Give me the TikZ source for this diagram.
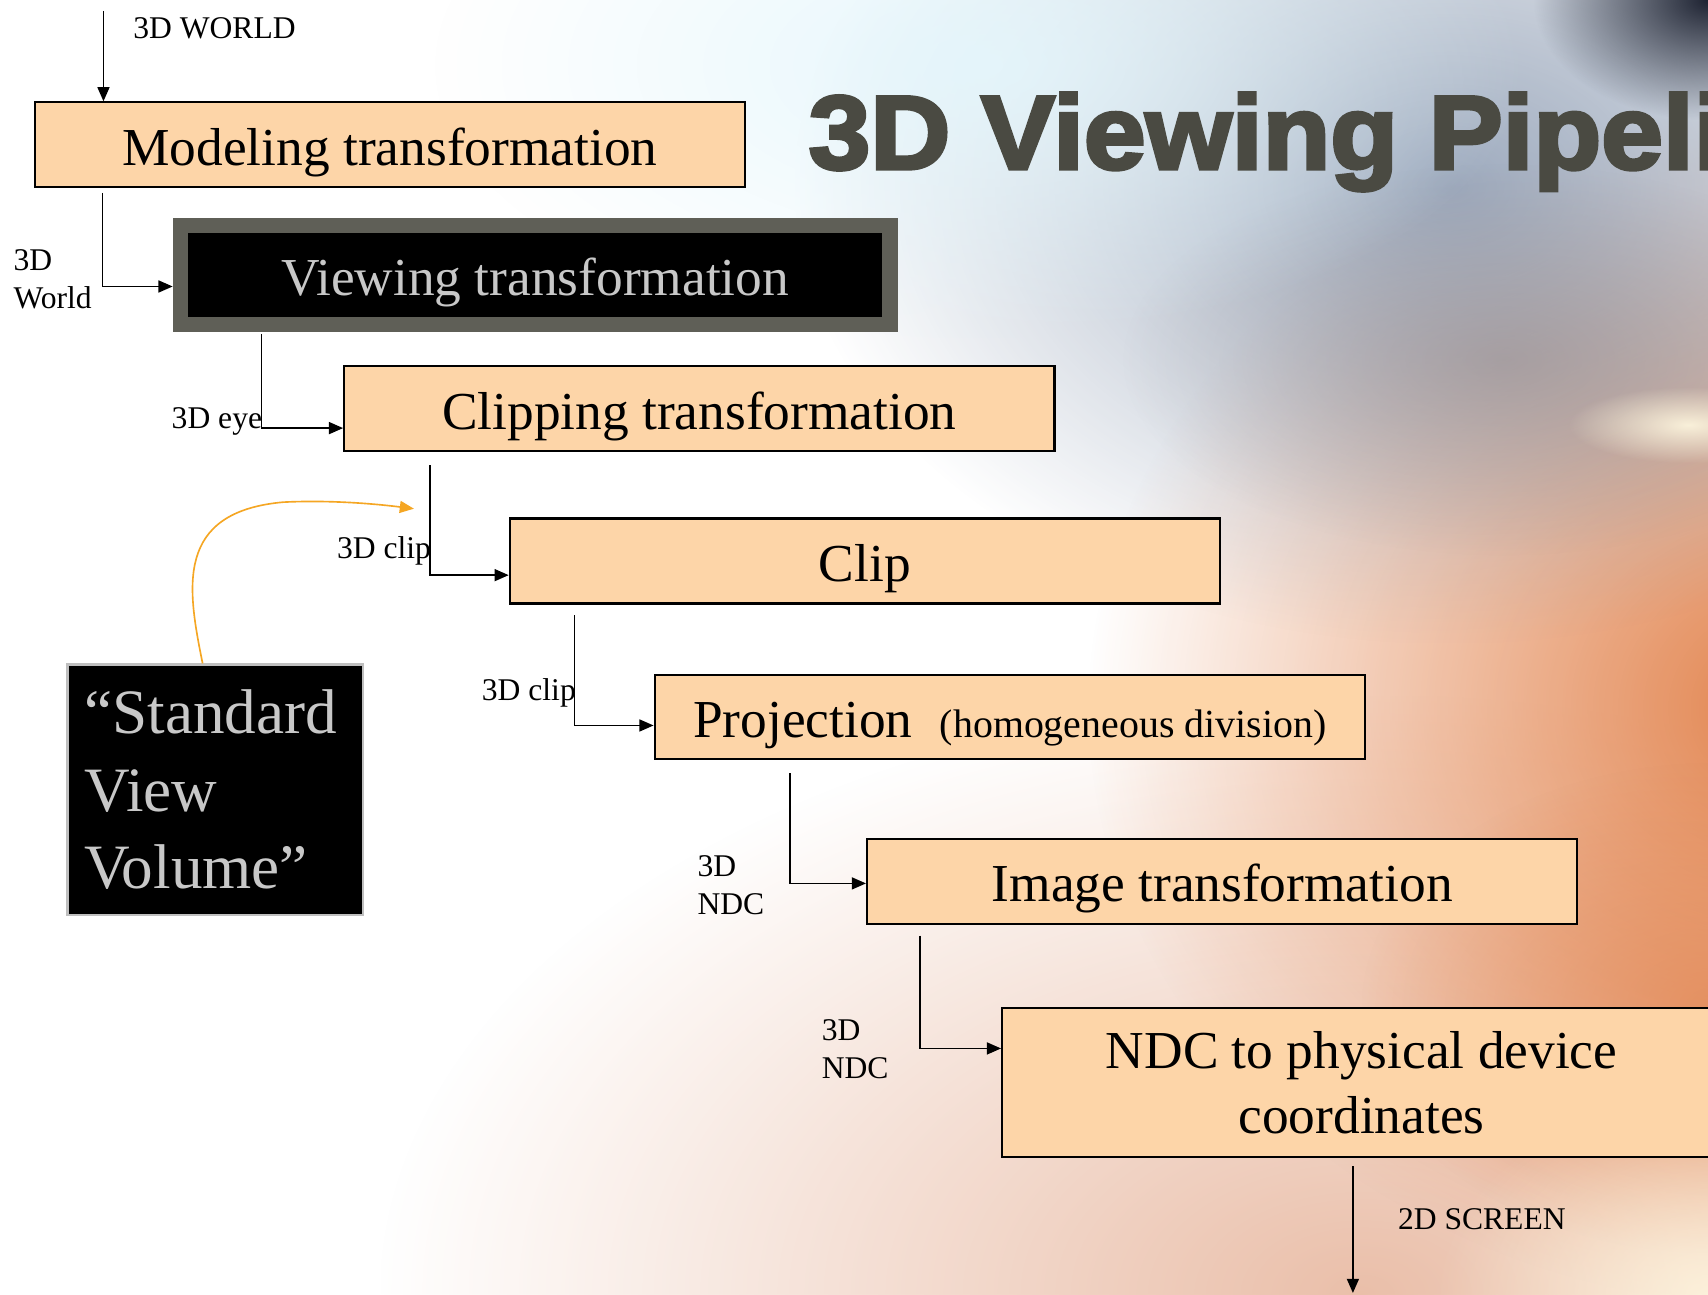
\documentclass[tikz,border=0pt]{standalone}
\usepackage{fontspec}
\setmainfont{Liberation Serif}
\newfontfamily\titlefont{Liberation Sans Bold}[FakeBold=3.5,FakeStretch=1.06]
\usetikzlibrary{arrows.meta,calc,fadings}
\definecolor{boxfill}{HTML}{FDD5A8}
\definecolor{viewgray}{HTML}{5F5F57}
\definecolor{viewtext}{HTML}{C8C8C8}
\definecolor{svvborder}{HTML}{BFBFBF}
\definecolor{titlecol}{HTML}{4A4A42}
\definecolor{curvecol}{HTML}{F5A623}
\definecolor{bgpeach}{HTML}{E8B8A0}
\definecolor{bgorange}{HTML}{E07A40}
\definecolor{bgblue}{HTML}{8C9BB2}
\definecolor{bgcyan}{HTML}{E4F6FC}
\definecolor{bgdark}{HTML}{1E2332}
\definecolor{bgswoosh}{HTML}{8A7F80}
\definecolor{bgbright}{HTML}{FFF8E0}
\tikzfading[name=softblob, inner color=transparent!0, outer color=transparent!100]
\tikzset{
  boxbase/.style={draw=black, line width=1pt, fill=boxfill, inner sep=0pt,
    minimum width=326pt, minimum height=39pt, font=\fontsize{24.5}{29.5}\selectfont},
  box/.style={boxbase, text height=19pt, text depth=0pt},
  lbl/.style={font=\fontsize{14.5}{17.5}\selectfont, inner sep=0pt, align=left},
  conn/.style={line width=0.75pt, -{Triangle[length=6.5pt,width=5.5pt]}},
  blob/.style={path fading=softblob, fill opacity=#1},
}
\begin{document}
\begin{tikzpicture}[x=0.5pt,y=-0.5pt]
\useasboundingbox (0,0) rectangle (1568,1188);
\begin{scope}
\clip (0,0) rectangle (1568,1188);
\fill[white] (0,0) rectangle (1568,1188);
% background blobs (rectangle = centre +- radius)
\fill[bgpeach, blob=0.9] (350,638) rectangle (2150,1738);
\fill[bgorange, blob=0.95] (1000,100) rectangle (2300,1200);
\fill[bgorange, blob=0.6] (1250,700) rectangle (1900,1150);
\fill[bgblue, blob=0.85] (730,-250) rectangle (1930,590);
\fill[bgswoosh, blob=0.45] (1030,150) rectangle (1730,510);
\fill[bgcyan, blob=0.9] (400,-190) rectangle (1400,310);
\fill[bgdark, blob=1] (1408,-110) rectangle (1728,110);
\fill[bgbright, blob=0.9] (1440,355) rectangle (1660,425);
\fill[bgbright, blob=0.8] (1318,1008) rectangle (1818,1368);

% title
\node[anchor=base west, inner sep=0pt, text=titlecol,
  font=\titlefont\fontsize{48}{48}\selectfont] (title) at (742,155) {3D Viewing Pipeline};

% boxes
\node[box] (model) at (358,133) {Modeling transformation};
\node[draw=viewgray, line width=7pt, fill=black, text=viewtext, inner sep=0pt,
  minimum width=325.75pt, minimum height=45.5pt, text height=19pt, text depth=0pt,
  font=\fontsize{24.5}{29.5}\selectfont] (view) at (491.25,252.5) {Viewing transformation};
\node[box] (clipping) at (642,375) {Clipping transformation};
\node[box] (clip) at (794,515) {Clip};
\node[box, minimum height=38.5pt] (proj) at (927,658.5)
  {Projection\hspace{12.5pt}{\fontsize{18.3}{22}\selectfont(homogeneous division)}};
\node[box] (image) at (1122,809) {Image transformation};
\node[boxbase, minimum width=330pt, minimum height=68.5pt, align=center,
  font=\fontsize{24.5}{30}\selectfont] (ndc) at (1250,994)
  {NDC to physical device\\coordinates};
\node[draw=svvborder, line width=1pt, fill=black, text=viewtext, inner ysep=0pt,
  inner xsep=7.75pt, text width=120pt, minimum height=115pt, align=left,
  font=\fontsize{29}{35.5}\selectfont] (svv) at (197.5,725) {“Standard\\View\\Volume”};

% labels
\node[lbl, anchor=west] (lworld) at (122,26) {3D WORLD};
\node[lbl, anchor=west] (lw) at (12,256) {3D\\World};
\node[lbl, anchor=east] (leye) at (241,387) {3D eye};
\node[lbl, anchor=east] (lclipa) at (396,506) {3D clip};
\node[lbl, anchor=east] (lclipb) at (529,636) {3D clip};
\node[lbl, anchor=west] (lndca) at (640,813) {3D\\NDC};
\node[lbl, anchor=west] (lndcb) at (754,963) {3D\\NDC};
\node[lbl, anchor=west] (lscreen) at (1283,1119) {2D SCREEN};

% connectors
\coordinate (in) at (95,10);
\coordinate (out) at (1242,1187);
\coordinate (svvtip) at (380,467);
\draw[conn] (in) -- (in |- model.north);
\draw[conn] ($(model.south west)+(63,4)$) |- ($(view.west)+(0,10.5)$);
\draw[conn] ($(view.south west)+(81.5,1.5)$) |- ($(clipping.west)+(0,18)$);
\draw[conn] ($(clipping.south west)+(79.5,12)$) |- ($(clip.west)+(0,13)$);
\draw[conn] ($(clip.south west)+(60.5,10)$) |- ($(proj.west)+(0,7.5)$);
\draw[conn] ($(proj.south west)+(125.5,12)$) |- ($(image.west)+(0,2)$);
\draw[conn] ($(image.south west)+(49.5,10)$) |- ($(ndc.west)+(0,-31.5)$);
\draw[conn] ($(out |- ndc.south)+(0,7)$) -- (out);
\draw[curvecol, line width=0.75pt, -{Triangle[length=6.5pt,width=5.5pt]}]
  ($(svv.north)+(-11.5,0)$) .. controls (172,540) and (160,470) .. (260,461)
  .. controls (300,459) and (340,462) .. (svvtip);
\end{scope}
\end{tikzpicture}
\end{document}
